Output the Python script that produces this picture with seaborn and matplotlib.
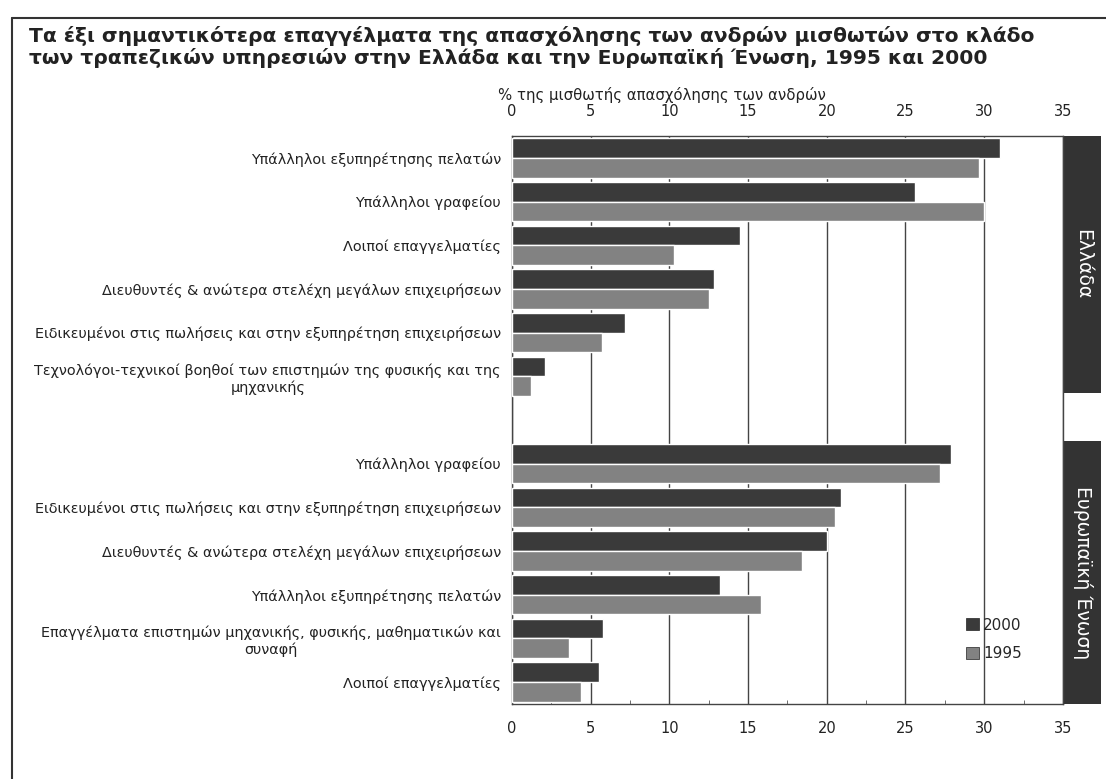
import pandas as pd
import matplotlib
matplotlib.use('Agg')
import matplotlib.pyplot as plt
import seaborn as sns
from matplotlib.lines import Line2D
from matplotlib.patches import Rectangle
from matplotlib.transforms import blended_transform_factory

# Ελλάδα
gr_labels = ['Υπάλληλοι εξυπηρέτησης πελατών',
             'Υπάλληλοι γραφείου',
             'Λοιποί επαγγελματίες',
             'Διευθυντές & ανώτερα στελέχη μεγάλων επιχειρήσεων',
             'Ειδικευμένοι στις πωλήσεις και στην εξυπηρέτηση επιχειρήσεων',
             'Τεχνολόγοι-τεχνικοί βοηθοί των επιστημών της φυσικής και της\nμηχανικής']
gr_2000 = [31.0, 25.6, 14.5, 12.8, 7.2, 2.1]
gr_1995 = [29.7, 30.0, 10.3, 12.5, 5.7, 1.2]

# Ευρωπαϊκή Ένωση
eu_labels = ['Υπάλληλοι γραφείου',
             'Ειδικευμένοι στις πωλήσεις και στην εξυπηρέτηση επιχειρήσεων',
             'Διευθυντές & ανώτερα στελέχη μεγάλων επιχειρήσεων',
             'Υπάλληλοι εξυπηρέτησης πελατών',
             'Επαγγέλματα επιστημών μηχανικής, φυσικής, μαθηματικών και\nσυναφή',
             'Λοιποί επαγγελματίες']
eu_2000 = [27.9, 20.9, 20.0, 13.2, 5.8, 5.5]
eu_1995 = [27.2, 20.5, 18.4, 15.8, 3.6, 4.4]

years = ['2000', '1995']
colors = ['#3a3a3a', '#828282']

# long table, one key per row so that repeated labels stay separate
gr_keys = [f'GR{i}' for i in range(len(gr_labels))]
eu_keys = [f'EU{i}' for i in range(len(eu_labels))]
rows = []
for k, a, b in zip(gr_keys + eu_keys, gr_2000 + eu_2000, gr_1995 + eu_1995):
    rows.append({'row': k, 'year': '2000', 'value': a})
    rows.append({'row': k, 'year': '1995', 'value': b})
df = pd.DataFrame(rows)
order = gr_keys + ['gap'] + eu_keys
tick_labels = gr_labels + [''] + eu_labels

sns.set_style('white')
plt.rcParams['font.family'] = ['DejaVu Sans']

fig = plt.figure(figsize=(11.06, 7.79), dpi=100)
ax = fig.add_axes([0.463, 0.0963, 0.498, 0.729])

sns.barplot(data=df, y='row', x='value', hue='year', order=order,
            hue_order=years, palette=colors, orient='h', width=0.9,
            edgecolor='white', linewidth=1, errorbar=None, ax=ax, zorder=3)

ax.set_xlim(0, 35)
ax.set_xticks(range(0, 36, 5))
ax.set_xticks([2.5 + 5 * i for i in range(7)], minor=True)
ax.grid(axis='x', which='major', color='#444444', linewidth=1, zorder=0)
ax.set_axisbelow(True)
ax.tick_params(axis='x', which='both', top=True, labeltop=True, direction='in',
               length=0, labelsize=10.5, colors='#222222', pad=12.5)
ax.tick_params(axis='x', which='minor', bottom=True, top=False, length=3, color='#555555')
ax.set_yticks(range(len(order)))
ax.set_yticklabels(tick_labels, fontsize=10.4, color='#222222')
for t in ax.get_yticklabels():
    t.set_multialignment('center')
ax.tick_params(axis='y', length=0, pad=8)
ax.set_xlabel('')
ax.set_ylabel('')
for s in ax.spines.values():
    s.set_color('#444444')
    s.set_linewidth(1)

ax.text(-0.025, 1.072, '% της μισθωτής απασχόλησης των ανδρών',
        transform=ax.transAxes, ha='left', va='center', fontsize=10.7, color='#222222')

# region strips on the right
tr = blended_transform_factory(ax.transAxes, ax.transData)
for y0, y1, name in [(-0.5, 5.38, 'Ελλάδα'), (6.48, 12.5, 'Ευρωπαϊκή Ένωση')]:
    ax.add_patch(Rectangle((1.002, y0), 0.067, y1 - y0, transform=tr,
                           facecolor='#333333', edgecolor='none', clip_on=False))
    ax.text(1.036, (y0 + y1) / 2, name, transform=tr, rotation=-90,
            ha='center', va='center', color='white', fontsize=13.5)

handles = [Rectangle((0, 0), 1, 1, facecolor=c, edgecolor='#222222', linewidth=0.5)
           for c in colors]
ax.legend(handles, years, loc='center left', bbox_to_anchor=(0.8, 0.1135),
          frameon=False, fontsize=11, handlelength=0.8, handleheight=0.8,
          handletextpad=0.3, labelspacing=0.9)

fig.text(0.026, 0.966,
         'Τα έξι σημαντικότερα επαγγέλματα της απασχόλησης των ανδρών μισθωτών στο κλάδο\n'
         'των τραπεζικών υπηρεσιών στην Ελλάδα και την Ευρωπαϊκή Ένωση, 1995 και 2000',
         ha='left', va='top', fontsize=14.6, fontweight='bold', color='#222222',
         linespacing=1.1)

# page frame
fig.add_artist(Line2D([0.011, 0.011], [0.0, 0.977], color='#333333', linewidth=1.5))
fig.add_artist(Line2D([0.011, 1.0], [0.977, 0.977], color='#333333', linewidth=1.5))

fig.savefig('out.png', dpi=100)
